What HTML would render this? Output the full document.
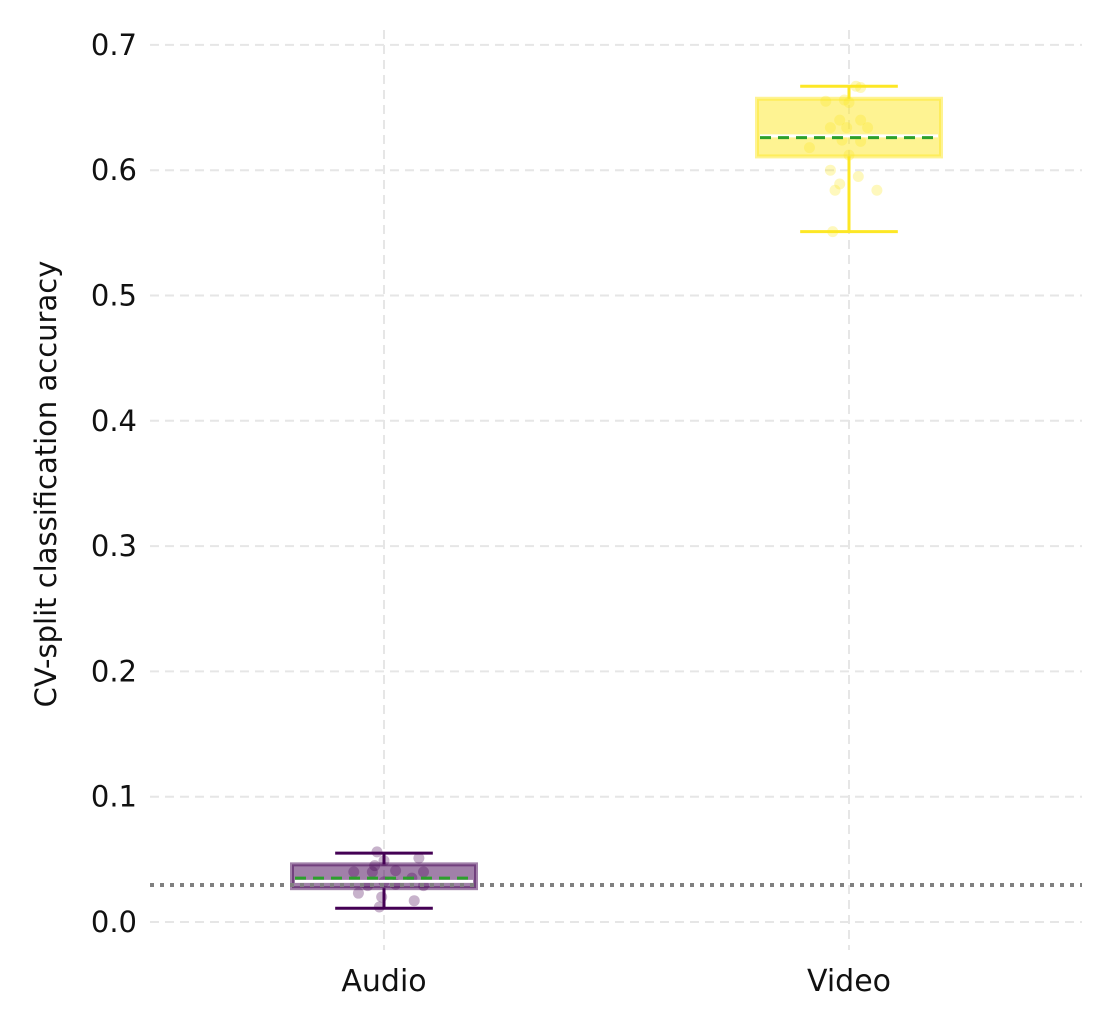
<!DOCTYPE html>
<html><head><meta charset="utf-8"><style>
body{margin:0;background:#fff;}
svg{display:block;font-family:"DejaVu Sans","Liberation Sans",sans-serif;}
</style></head><body>
<svg id="chart" width="1111" height="1031" viewBox="0 0 1111 1031" xmlns="http://www.w3.org/2000/svg"></svg>
<script>
const categories = ["Audio","Video"];
const colors = ["#440154","#fde725"];
const q1 = [0.027,0.611];
const q3 = [0.046,0.657];
const medians = [0.034,0.629];
const means = [0.035,0.626];
const whiskLow = [0.011,0.551];
const whiskHigh = [0.055,0.667];
const chanceLevel = 0.0295;
const yTicks = [0.0,0.1,0.2,0.3,0.4,0.5,0.6,0.7];
const yTickLabels = ["0.0","0.1","0.2","0.3","0.4","0.5","0.6","0.7"];
const audioPtsX = [-0.015,0.0,0.075,-0.065,-0.025,-0.02,0.025,0.085,0.06,-0.035,0.0,0.025,0.085,-0.055,-0.005,0.065,-0.01];
const audioPtsY = [0.056,0.049,0.051,0.040,0.040,0.045,0.041,0.040,0.035,0.029,0.032,0.030,0.029,0.023,0.020,0.017,0.012];
const videoPtsX = [0.015,0.025,-0.01,-0.05,0.00,-0.02,0.025,-0.04,-0.005,0.04,-0.015,0.025,-0.085,0.00,-0.04,0.02,-0.02,0.06,-0.03,-0.035];
const videoPtsY = [0.667,0.666,0.656,0.655,0.654,0.640,0.640,0.634,0.634,0.634,0.624,0.623,0.618,0.612,0.600,0.595,0.589,0.584,0.584,0.551];

const svg = document.getElementById('chart');
const NS = "http://www.w3.org/2000/svg";
const xPos = i => 384 + i*465;
const bandPx = 465;
const y = v => 922 - v*1253;
function mk(tag, attrs, parent){const e=document.createElementNS(NS,tag);for(const k in attrs)e.setAttribute(k,attrs[k]);(parent||svg).appendChild(e);return e;}

yTicks.forEach((t,i)=>{
  const l = mk('line',{x1:150,x2:1082,y1:y(t),y2:y(t),stroke:'#e6e6e6','stroke-width':2,'stroke-dasharray':'9,6'});
  
  
  const tx = mk('text',{x:137,y:y(t)+10,'text-anchor':'end','font-size':29,fill:'#111'});
  tx.textContent = yTickLabels[i];
  
  
});
categories.forEach((c,i)=>{
  const l = mk('line',{x1:xPos(i),x2:xPos(i),y1:30,y2:950,stroke:'#e6e6e6','stroke-width':2,'stroke-dasharray':'9,6'});
  
  
  const tx = mk('text',{x:xPos(i),y:991,'text-anchor':'middle','font-size':30,fill:'#111'});
  tx.textContent = c;
  
  
});
const yl = mk('text',{x:0,y:0,transform:'translate(56,484) rotate(-90)','text-anchor':'middle','font-size':29,fill:'#111'});
yl.textContent = 'CV-split classification accuracy';



const ptsX = [audioPtsX, videoPtsX], ptsY = [audioPtsY, videoPtsY];
categories.forEach((c,i)=>{
  const cx = xPos(i), hw = bandPx*0.2, cw = bandPx*0.105, col = colors[i];
  const g = mk('g',{});
  
  
  mk('rect',{x:cx-hw+1,y:y(q3[i]),width:2*hw-2,height:y(q1[i])-y(q3[i]),fill:col,'fill-opacity':0.5,stroke:col,'stroke-opacity':0.5,'stroke-width':4},g);
  mk('line',{x1:cx,x2:cx,y1:y(q3[i]),y2:y(whiskHigh[i]),stroke:col,'stroke-width':3},g);
  mk('line',{x1:cx,x2:cx,y1:y(q1[i]),y2:y(whiskLow[i]),stroke:col,'stroke-width':3},g);
  mk('line',{x1:cx-cw,x2:cx+cw,y1:y(whiskHigh[i]),y2:y(whiskHigh[i]),stroke:col,'stroke-width':3},g);
  mk('line',{x1:cx-cw,x2:cx+cw,y1:y(whiskLow[i]),y2:y(whiskLow[i]),stroke:col,'stroke-width':3},g);
  ptsX[i].forEach((px,j)=>{
    const p = mk('circle',{cx:cx+px*bandPx,cy:y(ptsY[i][j]),r:5.5,fill:col,'fill-opacity':0.3},g);
    
    
  });
  mk('line',{x1:cx-hw+4,x2:cx+hw-4,y1:y(medians[i])+2,y2:y(medians[i])+2,stroke:'#fff','stroke-width':3},g);
  const m = mk('line',{x1:cx-hw+4,x2:cx+hw-4,y1:y(means[i]),y2:y(means[i]),stroke:'#2ca02c','stroke-width':3,'stroke-dasharray':'11,7'},g);
  
  
});
const ch = mk('line',{x1:150,x2:1082,y1:y(chanceLevel),y2:y(chanceLevel),stroke:'#808080','stroke-width':4,'stroke-dasharray':'4,6'});


</script>
</body></html>
